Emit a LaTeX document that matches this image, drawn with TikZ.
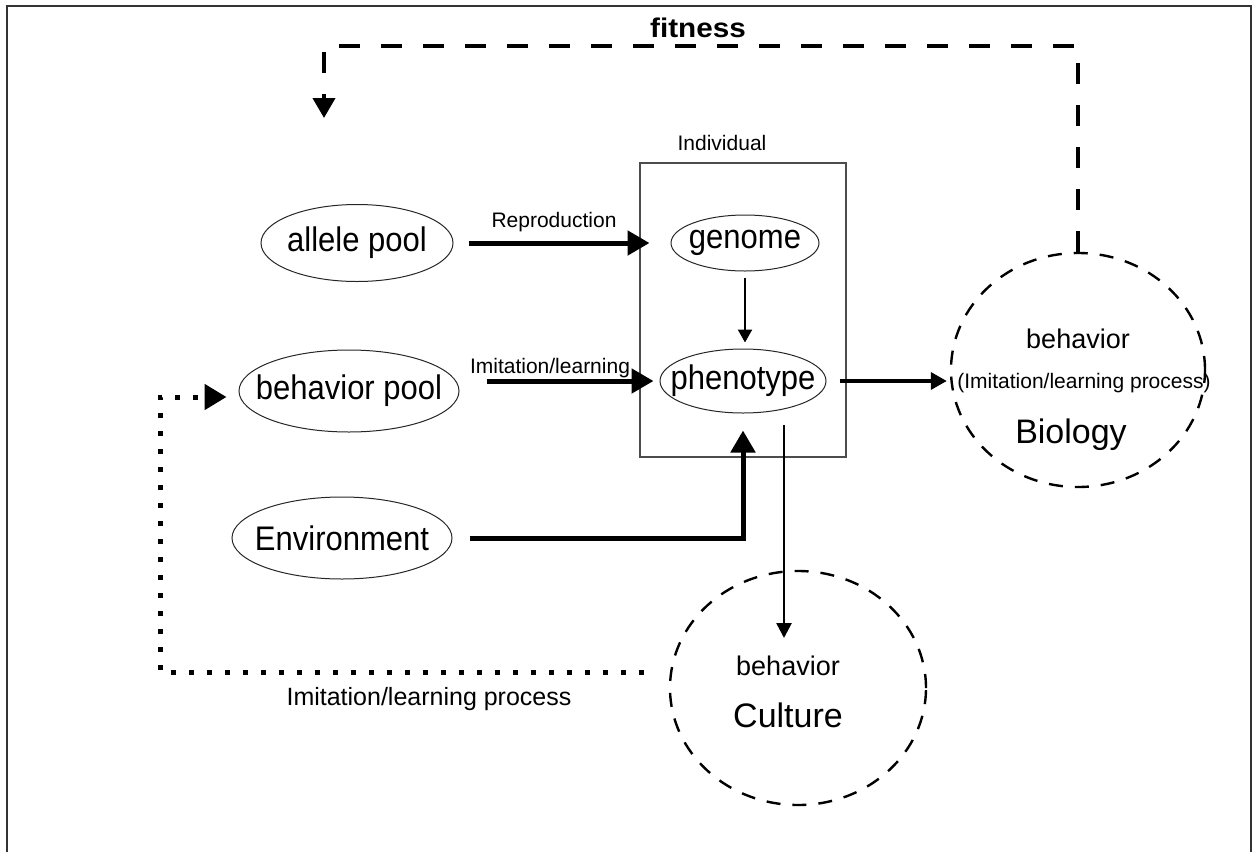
\documentclass[tikz,border=0pt]{standalone}
\usepackage{fontspec}
\setmainfont{Liberation Sans}
\usetikzlibrary{arrows.meta,shapes.geometric,calc}
% text that does not widen the ellipse around it, set slightly tall
\newcommand\inell[1]{\makebox[0pt]{\scalebox{1}[1.1]{#1}}}
\begin{document}
\begin{tikzpicture}[x=1pt,y=-1pt,
  pool/.style={draw=black!85, line width=1pt, ellipse, inner sep=0pt,
    font=\fontsize{31}{31}\selectfont},
  ring/.style={draw=black, ellipse, line width=2.4pt,
    dash pattern=on 14pt off 12pt, inner sep=0pt},
  lbl/.style={anchor=base, inner sep=0pt},
  small/.style={font=\fontsize{21}{21}\selectfont},
  bigarrow/.style={line width=5pt, -{Triangle[length=22pt,width=24pt]}},
  midarrow/.style={line width=3.5pt, -{Triangle[length=16pt,width=17pt]}},
  thinarrow/.style={line width=2.2pt, -{Triangle[length=13pt,width=14pt]}},
  droparrow/.style={line width=2.6pt, -{Triangle[length=15pt,width=15pt]}},
  loopline/.style={line width=5pt, dash pattern=on 5pt off 13pt,
    -{Triangle[length=22pt,width=25pt]}},
  fitline/.style={line width=4pt, dash pattern=on 21pt off 21pt,
    -{Triangle[length=20pt,width=22pt]}},
  frameline/.style={draw=black!80, line width=2pt}
]
\useasboundingbox (0,0) rectangle (1258,852);

% outer frame (open at the bottom)
\draw[frameline] (7,852) -- (7,6) -- (1251,6) -- (1251,852);

% individual box
\node[draw=black!70, line width=1.2pt, minimum width=206pt, minimum height=294pt,
  inner sep=0pt] (indiv) at (743,310) {};
\node[lbl, small] (indivlbl) at (722,150) {Individual};

% pools and individual components
\node[pool, minimum width=192pt, minimum height=77pt] (allele) at (357,243) {\inell{allele pool}};
\node[pool, minimum width=220pt, minimum height=82pt] (bpool) at (349,391) {\inell{behavior pool}};
\node[pool, minimum width=220pt, minimum height=82pt] (env) at (342,538) {\inell{Environment}};
\node[pool, minimum width=148pt, minimum height=56pt] (genome) at (745,243) {\inell{genome}};
\node[pool, minimum width=166pt, minimum height=64pt] (phen) at (743,381) {\inell{phenotype}};

% biology and culture rings
\node[ring, minimum width=254pt, minimum height=234pt] (bio) at (1078,370) {};
\node[ring, minimum width=256pt, minimum height=234pt] (cult) at (798,688) {};

\node[lbl, font=\fontsize{27}{27}\selectfont] (biobeh) at (1078,348) {behavior};
\node[lbl, small] (bioproc) at (1084,388) {(Imitation/learning process)};
\node[lbl, font=\fontsize{34}{34}\selectfont] (biolbl) at (1071,443) {Biology};
\node[lbl, font=\fontsize{27}{27}\selectfont] (cultbeh) at (788,675) {behavior};
\node[lbl, font=\fontsize{34}{34}\selectfont] (cultlbl) at (788,727) {Culture};

% inputs to the individual
\draw[bigarrow, shorten <=15pt, shorten >=21pt] (allele.east) -- (allele.east -| genome.west);
\node[lbl, small] (reprolbl) at (554,227) {Reproduction};
\draw[bigarrow, shorten <=27pt, shorten >=6pt] (bpool.east |- phen.west) -- (phen.west);
\node[lbl, small] (imitlbl) at (550,373) {Imitation/learning};
\draw[bigarrow, shorten <=17pt, shorten >=17pt] (env.east) -| (phen.south);
\draw[thinarrow, shorten <=6pt, shorten >=6pt] (genome.south) -- (genome.south |- phen.north);

% outputs
\draw[midarrow, shorten <=13pt, shorten >=3pt] (phen.east) -- (phen.east -| bio.west);
\coordinate (droptop) at (784,425);
\draw[droparrow, shorten >=50pt] (droptop) -- (droptop |- cult.center);

% imitation/learning loop back to the behavior pool
\coordinate (loopA) at (160,672);
\coordinate (loopB) at (160,397);
\draw[loopline, shorten <=25pt, shorten >=12pt]
  (cult.west |- loopA) -- (loopA) -- (loopB) -- (loopB -| bpool.west);
\node[lbl, font=\fontsize{25}{25}\selectfont] (looplbl) at (429,705) {Imitation/learning process};

% fitness feedback
\coordinate (fitR) at (1078,46);
\coordinate (fitL) at (324,46);
\coordinate (fitEnd) at (324,118);
\draw[fitline] (bio.north) -- (fitR) -- (fitL) -- (fitEnd);
\node[lbl, font=\bfseries\fontsize{27}{27}\selectfont, xscale=1.1] (fitlbl) at (698,37) {fitness};
\end{tikzpicture}
\end{document}
